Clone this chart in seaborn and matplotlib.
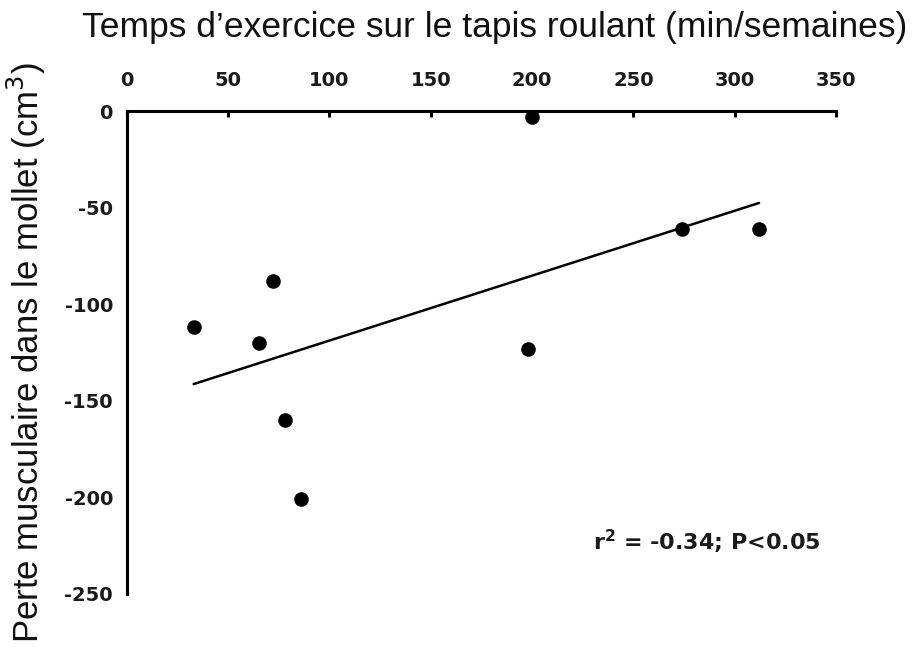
import pandas as pd
import matplotlib
matplotlib.use('Agg')
import matplotlib.pyplot as plt
import seaborn as sns

# Values
temps_exercice = [33, 72, 65, 78, 86, 198, 200, 274, 312]           # min/semaines
perte_mollet = [-112, -88, -120, -160, -201, -123, -3, -61, -61]    # cm3
x_ticks = [0, 50, 100, 150, 200, 250, 300, 350]
y_ticks = [0, -50, -100, -150, -200, -250]
annotation = "r$^{\\mathbf{2}}$ = -0.34; P<0.05"

df = pd.DataFrame({'temps': temps_exercice, 'perte': perte_mollet})

sns.set_style('white')
plt.rcParams['font.family'] = ['DejaVu Sans']
plt.rcParams['axes.unicode_minus'] = False

fig = plt.figure(figsize=(9.13, 6.58), dpi=100)
ax = fig.add_axes([0.1389, 0.0973, 0.9157 - 0.1389, 0.8313 - 0.0973])

sns.regplot(x='temps', y='perte', data=df, ci=None, ax=ax, truncate=True,
            scatter_kws={'s': 110, 'color': 'black', 'alpha': 1, 'linewidths': 0},
            line_kws={'color': 'black', 'lw': 1.8})

ax.set_xlim(0, 350)
ax.set_ylim(-250, 0)
ax.set_xticks(x_ticks)
ax.set_yticks(y_ticks)

# x axis sits on top
ax.xaxis.tick_top()
ax.xaxis.set_label_position('top')
for side in ['bottom', 'right']:
    ax.spines[side].set_visible(False)
for side in ['top', 'left']:
    ax.spines[side].set_linewidth(2.2)
    ax.spines[side].set_color('black')

ax.tick_params(axis='x', direction='in', length=4, width=2.2, pad=15, colors='black')
ax.tick_params(axis='y', direction='out', length=4, width=2.2, pad=6, colors='black')
for lab in ax.get_xticklabels() + ax.get_yticklabels():
    lab.set_fontweight('bold')
    lab.set_fontsize(14)
    lab.set_color('#1a1a1a')

ax.set_xlabel("Temps d\u2019exercice sur le tapis roulant (min/semaines)",
              family='Liberation Sans', fontsize=25.5, color='#111111')
ax.xaxis.set_label_coords(0.518, 1.153)
ax.set_ylabel("Perte musculaire dans le mollet (cm$^3$)",
              family='Liberation Sans', fontsize=25, labelpad=12, color='#111111')

ax.text(230, -223, annotation, fontsize=16, fontweight='bold',
        ha='left', va='center', color='#1a1a1a')

plt.savefig('out.png', dpi=100)
plt.close()
